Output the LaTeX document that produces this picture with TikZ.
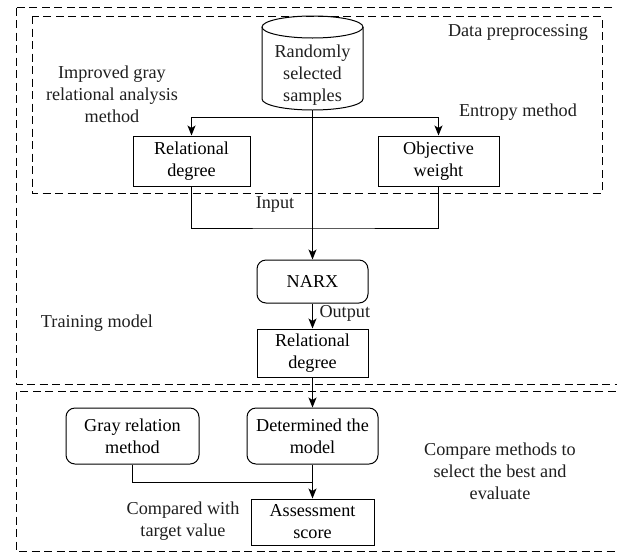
\documentclass[tikz,border=0pt]{standalone}
\usepackage{fontspec}
\setmainfont{Liberation Serif}
\usetikzlibrary{arrows.meta}
\begin{document}
\begin{tikzpicture}[x=1pt,y=-1pt,line width=1pt,
  font=\fontsize{18.2}{22}\selectfont,
  frame/.style={draw,dash pattern=on 8pt off 4.5pt,line width=1pt},
  rectbox/.style={draw,line width=1pt,align=center,inner sep=0pt},
  roundbox/.style={rectbox,rounded corners=9pt},
  lbl/.style={align=center,inner sep=0pt,text=black!88},
  arr/.style={-{Stealth[length=10pt,width=8pt,inset=2.5pt]}}]
\clip (0,0) rectangle (617,552);
% frames
\draw[frame] (16,7.5) rectangle (650,384);
\draw[frame] (32,16) rectangle (602,193);
\draw[frame] (16,391.5) rectangle (650,551);
% cylinder
\draw (312.5,27) ellipse [x radius=50.5pt,y radius=11pt];
\draw (262,27) -- (262,99) arc[start angle=180,end angle=360,x radius=50.5pt,y radius=11pt] -- (363,27);
\node[lbl] (samples) at (312.5,75.5) {Randomly\\selected\\samples};
\coordinate (cylb) at (312.5,110);
% boxes
\node[rectbox,minimum width=117pt,minimum height=50pt] (rd1) at (191.5,161) {Relational\\degree};
\node[rectbox,minimum width=121pt,minimum height=50pt] (ow) at (438.5,161) {Objective\\weight};
\node[roundbox,minimum width=111pt,minimum height=43pt] (narx) at (312.5,281.5) {NARX};
\node[rectbox,minimum width=111pt,minimum height=48pt] (rd2) at (312.5,353) {Relational\\degree};
\node[roundbox,minimum width=131pt,minimum height=56pt] (det) at (312.5,436) {Determined the\\model};
\node[roundbox,minimum width=133pt,minimum height=56pt] (gray) at (132.5,436) {Gray relation\\method};
\node[rectbox,minimum width=123pt,minimum height=46pt] (ass) at (312.5,522) {Assessment\\score};
% labels
\node[lbl] (dp) at (518,32) {Data preprocessing};
\node[lbl] (em) at (518,112) {Entropy method};
\node[lbl] (ig) at (112,94) {Improved gray\\relational analysis\\method};
\node[lbl] (inp) at (275,204) {Input};
\node[lbl,anchor=west] (outp) at (319,313) {Output};
\node[lbl] (tm) at (97,323) {Training model};
\node[lbl] (cm) at (500,471) {Compare methods to\\select the best and\\evaluate};
\node[lbl] (cw) at (183,521) {Compared with\\target value};
% connectors
\coordinate (split) at (312.5,117);
\coordinate (join) at (312.5,228);
\coordinate (gj) at (312.5,482);
\draw[arr] (cylb) -- (narx.north);
\draw[arr] (split) -| (rd1.north);
\draw[arr] (split) -| (ow.north);
\draw (rd1.south) |- (join) -| (ow.south);
\draw[arr] (narx) -- (rd2);
\draw[arr] (rd2) -- (det);
\draw[arr] (det) -- (ass);
\draw (gray.south) |- (gj);
\end{tikzpicture}
\end{document}
